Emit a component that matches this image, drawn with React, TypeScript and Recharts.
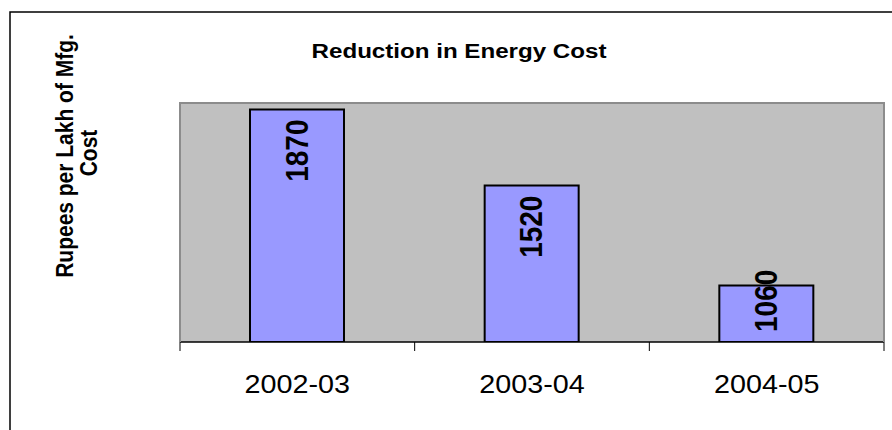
import { BarChart, Bar, XAxis, YAxis, CartesianGrid, LabelList } from "recharts";

const years = ["2002-03", "2003-04", "2004-05"];
const costPerLakh = [1870, 1520, 1060];
const yDomain = [800, 1900];

const data = years.map((year, i) => ({ year, cost: costPerLakh[i] }));

const FONT = "Arial, 'Liberation Sans', Helvetica, sans-serif";
// the original picture is a bit wider than it is tall, so text is stretched sideways
const STRETCH = 1.15;

function YearTick(props: any) {
  const { x, y, payload, index } = props;
  const half = payload?.offset ?? 704 / 6;
  return (
    <g>
      <line x1={x - half} x2={x - half} y1={y} y2={y + 9} stroke="#000" strokeWidth={1} />
      {index === years.length - 1 && (
        <line x1={x + half} x2={x + half} y1={y} y2={y + 9} stroke="#000" strokeWidth={1} />
      )}
      <text
        transform={`translate(${x},${y + 51}) scale(${STRETCH},1)`}
        textAnchor="middle"
        fontSize={25}
        fontFamily={FONT}
        fill="#000"
      >
        {payload.value}
      </text>
    </g>
  );
}

function ValueLabel(props: any) {
  const { x, y, width, height, value } = props;
  const cx = x + width / 2;
  const fontSize = 28;
  const textLen = String(value).length * 0.556 * fontSize;
  const fromTop = height - 20 >= textLen;
  const ty = fromTop ? y + 10 : y + height - 10;
  return (
    <text
      transform={`translate(${cx - 1},${ty}) scale(${STRETCH},1) rotate(-90)`}
      textAnchor={fromTop ? "end" : "start"}
      dy="0.36em"
      fontSize={fontSize}
      fontWeight="bold"
      fontFamily={FONT}
      fill="#000"
    >
      {value}
    </text>
  );
}

export default function App() {
  return (
    <div style={{ position: "absolute", left: 0, top: 0, width: 892, height: 430, background: "#fff" }}>
      <BarChart
        width={892}
        height={430}
        data={data}
        margin={{ top: 103, right: 8, left: 180, bottom: 38 }}
      >
        <CartesianGrid horizontal={false} vertical={false} fill="#c0c0c0" />
        <YAxis hide type="number" domain={yDomain} allowDataOverflow />
        <XAxis
          dataKey="year"
          height={50}
          axisLine={{ stroke: "#000", strokeWidth: 1.5 }}
          tickLine={false}
          tickSize={0}
          tickMargin={0}
          tick={<YearTick />}
          interval={0}
        />
        <Bar
          dataKey="cost"
          barSize={94}
          fill="#9999ff"
          stroke="#000"
          strokeWidth={2}
          isAnimationActive={false}
        >
          <LabelList dataKey="cost" content={<ValueLabel />} />
        </Bar>
      </BarChart>
      <svg
        width={892}
        height={430}
        style={{ position: "absolute", left: 0, top: 0, pointerEvents: "none" }}
      >
        <path d="M10,430 L10,12 L892,12" fill="none" stroke="#000" strokeWidth={1.5} />
        <path d="M180,342 L180,103 L884,103 L884,342" fill="none" stroke="#8c8c8c" strokeWidth={2} />
        <text
          transform={`translate(459,58) scale(${STRETCH},1)`}
          textAnchor="middle"
          fontSize={21}
          fontWeight="bold"
          fontFamily={FONT}
          fill="#000"
        >
          Reduction in Energy Cost
        </text>
        <text
          transform={`translate(73,156) scale(${STRETCH},1) rotate(-90)`}
          textAnchor="middle"
          fontSize={21}
          fontWeight="bold"
          fontFamily={FONT}
          fill="#000"
        >
          Rupees per Lakh of Mfg.
        </text>
        <text
          transform={`translate(97,153) scale(${STRETCH},1) rotate(-90)`}
          textAnchor="middle"
          fontSize={21}
          fontWeight="bold"
          fontFamily={FONT}
          fill="#000"
        >
          Cost
        </text>
      </svg>
    </div>
  );
}
